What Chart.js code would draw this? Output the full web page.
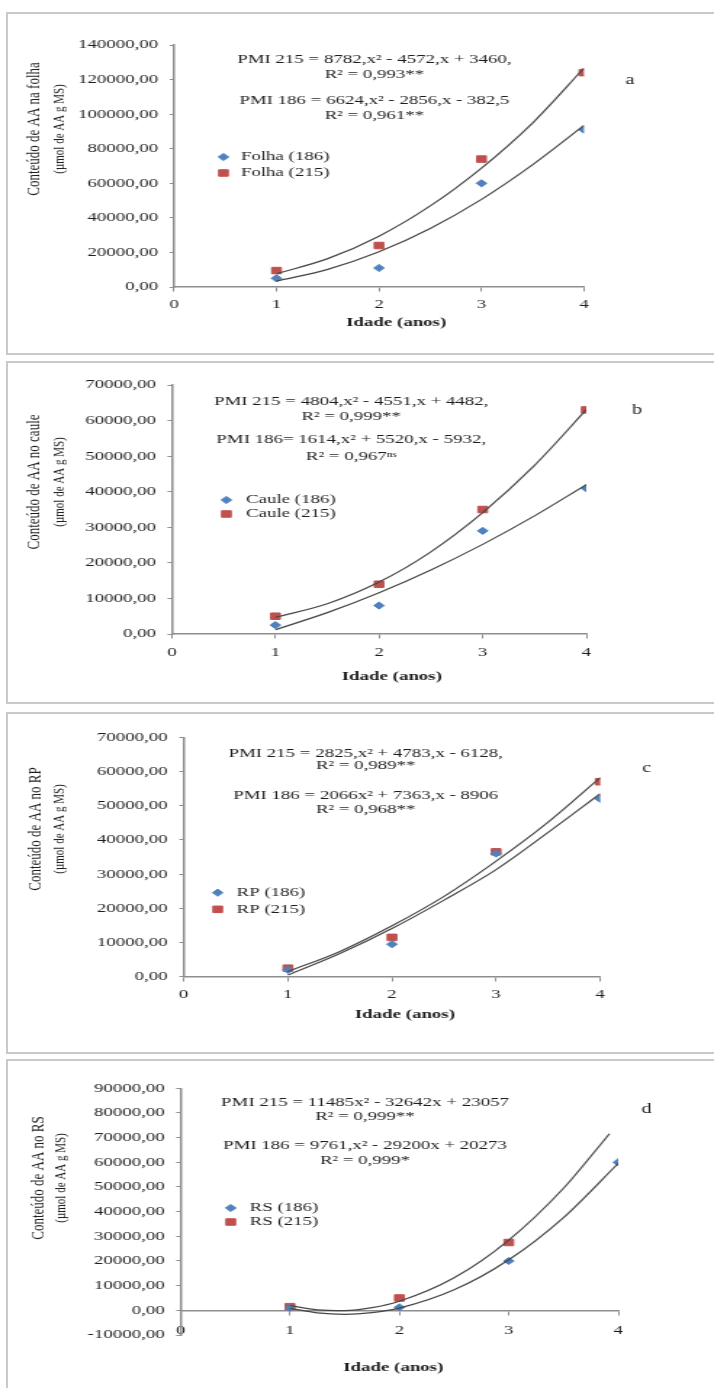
<!DOCTYPE html>
<html>
<head>
<meta charset="utf-8">
<script src="https://cdn.jsdelivr.net/npm/chart.js@4.4.1/dist/chart.umd.min.js"></script>
<style>
  html, body { margin: 0; padding: 0; background: #fff; overflow: hidden; }
  body { position: relative; width: 714px; height: 1388px; }
  .frame { position: absolute; left: 6px; width: 760px; border: 2px solid #c9c9c9; box-sizing: border-box; }
  canvas { position: absolute; left: 0; }
</style>
</head>
<body>
<div class="frame" style="top:12px;height:343px"></div>
<div class="frame" style="top:361px;height:343px"></div>
<div class="frame" style="top:712px;height:342px"></div>
<div class="frame" style="top:1059px;height:400px"></div>

<!-- the source figure is stretched sideways, so each canvas is drawn narrow and widened by css -->
<canvas id="chartA" width="492" height="357" style="top:0px;width:714px;height:357px"></canvas>
<canvas id="chartB" width="492" height="350" style="top:357px;width:714px;height:350px"></canvas>
<canvas id="chartC" width="492" height="350" style="top:707px;width:714px;height:350px"></canvas>
<canvas id="chartD" width="492" height="331" style="top:1057px;width:714px;height:331px"></canvas>

<script>
// measured values (idade em anos)
const ages = [1, 2, 3, 4];

const folha186 = [5000, 11000, 60000, 91000];
const folha215 = [9500, 24000, 74000, 124000];
const caule186 = [2500, 8000, 29000, 41000];
const caule215 = [5000, 14000, 35000, 63000];
const rp186 = [2000, 9500, 36000, 52000];
const rp215 = [2500, 11500, 36500, 57000];
const rs186 = [1000, 1200, 20000, 60000];
const rs215 = [1500, 5000, 27500, null];

// trend curves
const fitX = [1, 1.5, 2, 2.5, 3, 3.5, 4];
const folhaFit215 = [7700, 16400, 29400, 46900, 68800, 95000, 126700];
const folhaFit186 = [3400, 10200, 20400, 33900, 50700, 70800, 93500];
const cauleFit215 = [4700, 8500, 14600, 23100, 34100, 47400, 63100];
const cauleFit186 = [1200, 6000, 11600, 18000, 25200, 33200, 42000];
const rpFit215 = [1500, 7400, 14900, 23500, 33800, 45200, 58200];
const rpFit186 = [500, 6800, 14100, 22400, 31300, 42200, 53500];
const rsFitX186 = [1, 1.25, 1.5, 1.75, 2, 2.5, 3, 3.5, 4];
const rsFitX215 = [1, 1.25, 1.5, 1.75, 2, 2.5, 3, 3.5, 3.92];
const rsFit215 = [1900, 200, -100, 1100, 3700, 13200, 28500, 49500, 71600];
const rsFit186 = [800, -1000, -1600, -900, 900, 8300, 20500, 37600, 59600];

const SERIF = '"Liberation Serif", "Times New Roman", serif';
const BLUE = '#4f81bd';
const RED = '#c0504d';
const TREND = '#474747';
const AXIS = '#8e8e8e';
const INK = '#1e1e1e';

function pts(xs, ys) {
  return xs.map((x, i) => ({x: x, y: ys[i]}));
}

function fmt(v) {
  return v.toFixed(2).replace('.', ',');
}

// equations, panel letter, axis titles and legend
const panelText = {
  id: 'panelText',
  afterDraw(chart, args, o) {
    const ctx = chart.ctx;
    ctx.save();
    ctx.fillStyle = INK;
    ctx.textBaseline = 'middle';
    ctx.textAlign = 'center';
    ctx.font = '13px ' + SERIF;
    o.equations.forEach((t, i) => ctx.fillText(t, o.eqX, o.eqY[i]));
    ctx.font = '14px ' + SERIF;
    ctx.fillText(o.letter, o.letterAt[0], o.letterAt[1]);
    ctx.font = 'bold 13px ' + SERIF;
    ctx.fillText('Idade (anos)', o.xTitleAt[0], o.xTitleAt[1]);
    o.yTitle.forEach((t, i) => {
      ctx.save();
      ctx.translate(o.yTitleX[i], o.yTitleY);
      ctx.rotate(-Math.PI / 2);
      ctx.font = o.yTitleSize[i] + 'px ' + SERIF;
      ctx.fillText(t, 0, 0);
      ctx.restore();
    });
    ctx.textAlign = 'left';
    ctx.font = '13px ' + SERIF;
    chart.data.datasets.slice(0, 2).forEach((ds, i) => {
      const y = o.legendY[i];
      ctx.fillStyle = ds.backgroundColor;
      ctx.strokeStyle = ds.borderColor;
      ctx.lineWidth = 1;
      Chart.helpers.drawPoint(ctx, {pointStyle: ds.pointStyle, radius: ds.pointRadius, rotation: 0, borderWidth: 1}, o.legendX, y);
      ctx.fillStyle = INK;
      ctx.fillText(ds.label, o.legendTextX, y);
    });
    ctx.restore();
  }
};

function makePanel(id, p) {
  new Chart(document.getElementById(id), {
    type: 'scatter',
    data: {
      datasets: [
        {label: p.labels[0], data: pts(ages, p.s186), pointStyle: 'rectRot', pointRadius: 3.6,
         backgroundColor: BLUE, borderColor: BLUE, pointBorderWidth: 1, order: 2},
        {label: p.labels[1], data: pts(ages, p.s215), pointStyle: 'rect', pointRadius: 4.6,
         backgroundColor: RED, borderColor: RED, pointBorderWidth: 1, order: 2},
        {type: 'line', data: pts(p.fitX215, p.fit215), borderColor: TREND, borderWidth: 1.2,
         pointRadius: 0, cubicInterpolationMode: 'monotone', fill: false, order: 1},
        {type: 'line', data: pts(p.fitX186, p.fit186), borderColor: TREND, borderWidth: 1.2,
         pointRadius: 0, cubicInterpolationMode: 'monotone', fill: false, order: 1}
      ]
    },
    options: {
      responsive: false,
      animation: false,
      devicePixelRatio: 1,
      layout: {padding: p.pad},
      plugins: {
        legend: {display: false},
        tooltip: {enabled: false},
        panelText: p.text
      },
      scales: {
        x: {
          type: 'linear', min: 0, max: 4,
          position: {y: 0},
          ticks: {stepSize: 1, padding: p.xPad, color: INK, font: {family: SERIF, size: 13}},
          grid: {drawOnChartArea: false, tickLength: 4, color: AXIS},
          border: {color: AXIS, width: 1.5},
          afterFit: s => { s.height = 0; }
        },
        y: {
          min: p.yMin, max: p.yMax,
          ticks: {stepSize: p.yStep, padding: 8, color: INK, font: {family: SERIF, size: 13},
                  callback: v => fmt(v)},
          grid: {drawOnChartArea: false, tickLength: 3, color: AXIS},
          border: {color: AXIS, width: 1.5},
          afterFit: s => { s.width = 80; }
        }
      }
    },
    plugins: [panelText]
  });
}

makePanel('chartA', {
  labels: ['Folha (186)', 'Folha (215)'],
  s186: folha186, s215: folha215,
  fitX215: fitX, fit215: folhaFit215, fitX186: fitX, fit186: folhaFit186,
  yMin: 0, yMax: 140000, yStep: 20000, xPad: 6,
  pad: {left: 39.9, right: 89.6, top: 45, bottom: 70},
  text: {
    equations: ['PMI 215 = 8782,x² - 4572,x + 3460,', 'R² = 0,993**', 'PMI 186 = 6624,x² - 2856,x - 382,5', 'R² = 0,961**'],
    eqX: 258, eqY: [60, 74.5, 101, 116],
    letter: 'a', letterAt: [434, 80],
    xTitleAt: [273, 323],
    yTitle: ['Conteúdo de AA na folha', '(µmol de AA g MS)'], yTitleSize: [13, 11],
    yTitleX: [23.4, 40.7], yTitleY: 129,
    legendX: 154, legendTextX: 166, legendY: [157, 173]
  }
});

makePanel('chartB', {
  labels: ['Caule (186)', 'Caule (215)'],
  s186: caule186, s215: caule215,
  fitX215: fitX, fit215: cauleFit215, fitX186: fitX, fit186: cauleFit186,
  yMin: 0, yMax: 70000, yStep: 10000, xPad: 7,
  pad: {left: 38.4, right: 88, top: 28, bottom: 73},
  text: {
    equations: ['PMI 215 = 4804,x² - 4551,x + 4482,', 'R² = 0,999**', 'PMI 186= 1614,x² + 5520,x - 5932,', 'R² = 0,967ⁿˢ'],
    eqX: 242, eqY: [44.7, 59.7, 83, 99.7],
    letter: 'b', letterAt: [439, 53],
    xTitleAt: [270, 320],
    yTitle: ['Conteúdo de AA no caule', '(µmol de AA g MS)'], yTitleSize: [13, 11],
    yTitleX: [23.4, 40.7], yTitleY: 125,
    legendX: 156, legendTextX: 169.5, legendY: [143, 157]
  }
});

makePanel('chartC', {
  labels: ['RP (186)', 'RP (215)'],
  s186: rp186, s215: rp215,
  fitX215: fitX, fit215: rpFit215, fitX186: fitX, fit186: rpFit186,
  yMin: 0, yMax: 70000, yStep: 10000, xPad: 6.5,
  pad: {left: 46.6, right: 78.4, top: 30.3, bottom: 80.3},
  text: {
    equations: ['PMI 215 = 2825,x² + 4783,x - 6128,', 'R² = 0,989**', 'PMI 186 = 2066x² + 7363,x - 8906', 'R² = 0,968**'],
    eqX: 252, eqY: [46.3, 59, 89, 102.3],
    letter: 'c', letterAt: [445.6, 61.3],
    xTitleAt: [279, 308],
    yTitle: ['Conteúdo de AA no RP', '(µmol de AA g MS)'], yTitleSize: [13, 11],
    yTitleX: [24.8, 40.7], yTitleY: 122,
    legendX: 150, legendTextX: 163, legendY: [185.7, 202.3]
  }
});

makePanel('chartD', {
  labels: ['RS (186)', 'RS (215)'],
  s186: rs186, s215: rs215,
  fitX215: rsFitX215, fit215: rsFit215, fitX186: rsFitX186, fit186: rsFit186,
  yMin: -10000, yMax: 90000, yStep: 10000, xPad: 8,
  pad: {left: 44.4, right: 66, top: 31.3, bottom: 53},
  text: {
    equations: ['PMI 215 = 11485x² - 32642x + 23057', 'R² = 0,999**', 'PMI 186 = 9761,x² - 29200x + 20273', 'R² = 0,999*'],
    eqX: 251.5, eqY: [45.7, 60, 89, 103.7],
    letter: 'd', letterAt: [445.6, 52.3],
    xTitleAt: [271, 310.3],
    yTitle: ['Conteúdo de AA no RS', '(µmol de AA g MS)'], yTitleSize: [13, 11],
    yTitleX: [26.7, 42.4], yTitleY: 121,
    legendX: 159, legendTextX: 172, legendY: [151, 165]
  }
});
</script>
</body>
</html>
